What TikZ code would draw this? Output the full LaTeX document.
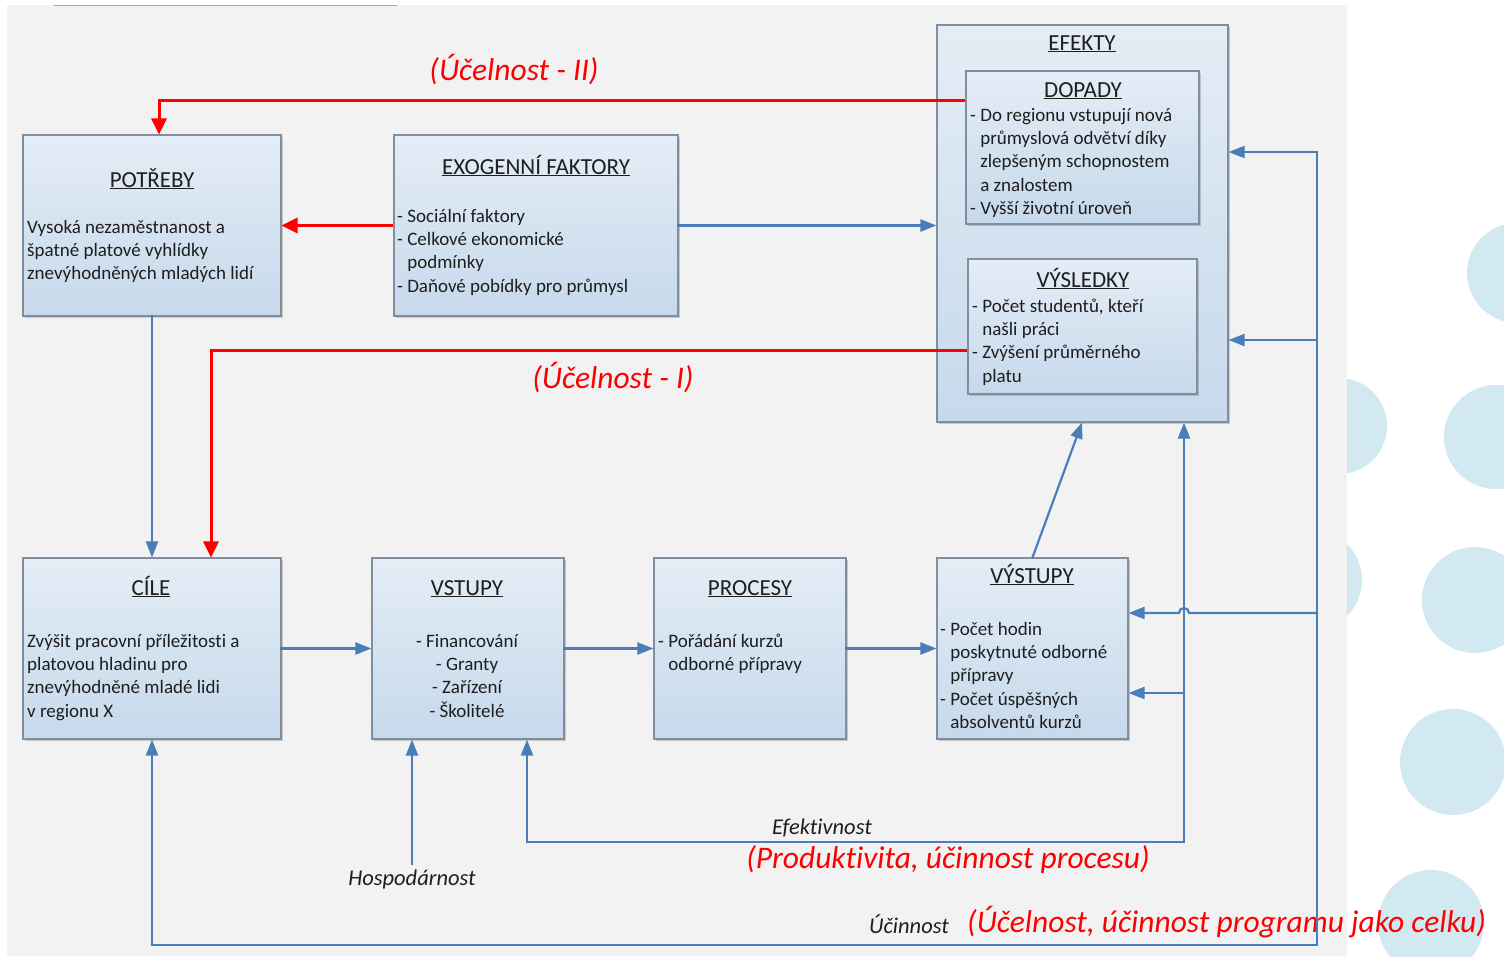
\documentclass[tikz,border=0pt]{standalone}
\usepackage{fontspec}
\setmainfont{Carlito}[Ligatures=NoCommon]
\usetikzlibrary{arrows.meta,shadows,calc}
\definecolor{panel}{HTML}{F2F2F2}
\definecolor{boxtop}{HTML}{E4EDF6}
\definecolor{boxbot}{HTML}{C6D9EB}
\definecolor{boxline}{HTML}{7F8FA0}
\definecolor{flowblue}{HTML}{4A7EBB}
\definecolor{ink}{HTML}{1E1E1E}
\definecolor{dot}{HTML}{D3E9F2}
\begin{document}
\begin{tikzpicture}[x=1pt,y=-1pt,
  box/.style={draw=boxline, line width=1.1pt, top color=boxtop, bottom color=boxbot,
    drop shadow={shadow xshift=2pt, shadow yshift=-2pt, opacity=0.3, fill=black!60}},
  titletext/.style={font=\fontsize{23}{27}\selectfont, text=ink, inner sep=0pt, anchor=base},
  bodytext/.style={font=\fontsize{19}{23.3}\selectfont, text=ink, inner sep=0pt, anchor=north west, align=left},
  flow/.style={draw=flowblue, line width=2.2pt, line cap=rect, -{Triangle[length=16pt,width=12pt]}},
  feedback/.style={draw=red, line width=3pt, -{Triangle[length=16pt,width=15pt]}},
  redlabel/.style={font=\fontsize{31.5}{36}\selectfont\itshape, text=red, inner sep=0pt, anchor=base},
  measure/.style={font=\fontsize{22.5}{26}\selectfont\itshape, text=ink, inner sep=0pt, anchor=base}]
\useasboundingbox (0,0) rectangle (1504,956);
\clip (0,0) rectangle (1504,956);
\fill[white] (0,0) rectangle (1504,956);

% decorative dots on the right margin
\foreach \cx/\cy/\r in {1517/273/50, 1339/426/48, 1496/437/52, 1312/580/50,
                        1475/600/53, 1453/762/53, 1431/923/53}
  \fill[dot] (\cx,\cy) circle[radius=\r pt];

% light panel behind the diagram
\fill[panel] (7,5) rectangle (1347,956);
\draw[gray!70, line width=1.2pt] (54,5.5) -- (397,5.5);

% boxes
\node[box, minimum width=258pt, minimum height=181pt] (potreby) at (152,225.5) {};
\node[box, minimum width=284pt, minimum height=181pt] (exo) at (536,225.5) {};
\node[box, minimum width=291pt, minimum height=397pt] (efekty) at (1082.5,223.5) {};
\node[box, minimum width=233pt, minimum height=153pt] (dopady) at (1082.5,147.5) {};
\node[box, minimum width=229pt, minimum height=135pt] (vysledky) at (1082.5,326.5) {};
\node[box, minimum width=258pt, minimum height=181pt] (cile) at (152,648.5) {};
\node[box, minimum width=192pt, minimum height=181pt] (vstupy) at (468,648.5) {};
\node[box, minimum width=192pt, minimum height=181pt] (procesy) at (750,648.5) {};
\node[box, minimum width=191pt, minimum height=181pt] (vystupy) at (1032.5,648.5) {};

% box titles
\node[titletext] (tpotreby) at (152,187) {\underline{POTŘEBY}};
\node[titletext] (texo) at (536,174) {\underline{EXOGENNÍ FAKTORY}};
\node[titletext] (tefekty) at (1082,50) {\underline{EFEKTY}};
\node[titletext] (tdopady) at (1083,97) {\underline{DOPADY}};
\node[titletext] (tvysledky) at (1083,287) {\underline{VÝSLEDKY}};
\node[titletext] (tcile) at (151,595) {\underline{CÍLE}};
\node[titletext] (tvstupy) at (467,595) {\underline{VSTUPY}};
\node[titletext] (tprocesy) at (750,595) {\underline{PROCESY}};
\node[titletext] (tvystupy) at (1032,583) {\underline{VÝSTUPY}};

% box contents
\node[bodytext] (bpotreby) at (27,216.7) {\strut Vysoká nezaměstnanost a\\špatné platové vyhlídky\\znevýhodněných mladých lidí};
\node[bodytext] (bexo) at (397,205.7) {\strut - Sociální faktory\\- Celkové ekonomické\\\phantom{- }podmínky\\- Daňové pobídky pro průmysl};
\node[bodytext] (bdopady) at (970,104.7) {\strut - Do regionu vstupují nová\\\phantom{- }průmyslová odvětví díky\\\phantom{- }zlepšeným schopnostem\\\phantom{- }a znalostem\\- Vyšší životní úroveň};
\node[bodytext] (bvysledky) at (972,295.7) {\strut - Počet studentů, kteří\\\phantom{- }našli práci\\- Zvýšení průměrného\\\phantom{- }platu};
\node[bodytext] (bcile) at (27,630.7) {\strut Zvýšit pracovní příležitosti a\\platovou hladinu pro\\znevýhodněné mladé lidi\\v regionu X};
\node[bodytext, anchor=north, align=center] (bvstupy) at (467,630.7) {\strut - Financování\\- Granty\\- Zařízení\\- Školitelé};
\node[bodytext] (bprocesy) at (658,630.7) {\strut - Pořádání kurzů\\\phantom{- }odborné přípravy};
\node[bodytext] (bvystupy) at (940,618.7) {\strut - Počet hodin\\\phantom{- }poskytnuté odborné\\\phantom{- }přípravy\\- Počet úspěšných\\\phantom{- }absolventů kurzů};

% labels
\node[redlabel] (ucII) at (514,80) {(Účelnost - II)};
\node[redlabel] (ucI) at (613,388) {(Účelnost - I)};
\node[measure] (hosp) at (412,885) {Hospodárnost};
\node[measure] (efekt) at (822,834) {Efektivnost};
\node[redlabel] (prod) at (948,868) {(Produktivita, účinnost procesu)};
\node[measure] (ucin) at (909,933) {Účinnost};
\node[redlabel, anchor=base west] (celek) at (967,932) {(Účelnost, účinnost programu jako celku)};

% red feedback connectors
\coordinate (kII) at (159,100);
\draw[feedback] (dopady.west |- kII) -- (kII) -- (potreby.north -| kII);
\draw[feedback] (exo.west) -- (potreby.east);
\coordinate (kI) at (211,350);
\draw[feedback] (vysledky.west |- kI) -- (kI) -- (cile.north -| kI);

% main flow
\draw[flow] (exo.east) -- (exo.east -| efekty.west);
\draw[flow] (potreby.south) -- (cile.north);
\draw[flow] (cile.east) -- (vstupy.west);
\draw[flow] (vstupy.east) -- (procesy.west);
\draw[flow] (procesy.east) -- (vystupy.west);
\coordinate (kV) at (1082,0);
\draw[flow] (vystupy.north) -- (efekty.south -| kV);

% efektivnost loop
\coordinate (eR) at (1184,842);
\coordinate (eL) at (527,842);
\coordinate (eO) at (1184,693);
\draw[flow] (eR) -- (eR |- efekty.south);
\draw[flow] (eR) -- (eL) -- (vstupy.south -| eL);
\draw[flow] (eO) -- (eO -| vystupy.east);

% hospodárnost
\draw[flow] ($(hosp.north)+(0,-5)$) -- (vstupy.south -| hosp.north);

% účinnost loop
\coordinate (uR) at (1317,945);
\coordinate (uL) at (152,945);
\coordinate (uT) at (1317,152);
\coordinate (uM) at (1317,340);
\coordinate (uH) at (1317,613);
\draw[flow] (uR) -- (uL) -- (cile.south);
\draw[flow] (uR) -- (uT) -- (uT -| efekty.east);
\draw[flow] (uM) -- (uM -| efekty.east);
\draw[flow] (uH) -- ($(eR |- uH)+(5,0)$) arc[start angle=0, end angle=180, radius=5pt] -- (uH -| vystupy.east);
\end{tikzpicture}
\end{document}
